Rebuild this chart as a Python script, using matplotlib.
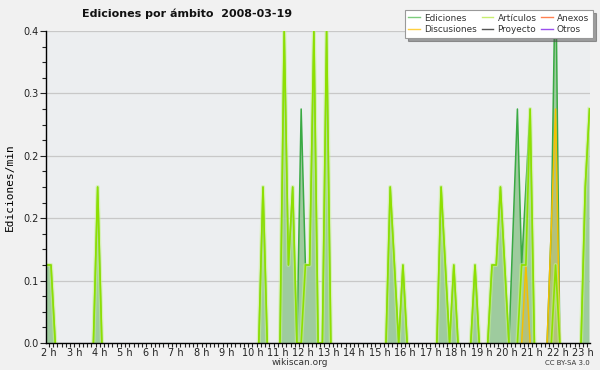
import matplotlib
matplotlib.use('Agg')
import matplotlib.pyplot as plt
import numpy as np
from matplotlib.ticker import FixedLocator, MultipleLocator, FormatStrFormatter
from matplotlib.lines import Line2D

# 10-minute bins, first bin at 1:55, values in ediciones/min
start_hour = 1 + 55 / 60
ediciones = [
    .1, .1, 0, 0, 0, 0, 0, 0, 0, 0, 0, 0,
    .2, 0, 0, 0, 0, 0, 0, 0, 0, 0, 0, 0,
    0, 0, 0, 0, 0, 0, 0, 0, 0, 0, 0, 0,
    0, 0, 0, 0, 0, 0, 0, 0, 0, 0, 0, 0,
    0, 0, 0, .2, 0, 0, 0, 0, .4, .1, .2, 0,
    .3, .1, .1, .4, 0, 0, .4, 0, 0, 0, 0, 0,
    0, 0, 0, 0, 0, 0, 0, 0, 0, .2, .1, 0,
    .1, 0, 0, 0, 0, 0, 0, 0, 0, .2, .1, 0,
    .1, 0, 0, 0, 0, .1, 0, 0, 0, .1, .1, .2,
    .1, 0, .15, .3, .1, .2, .3, 0, 0, 0, 0, .15,
    .5, 0, 0, 0, 0, 0, 0, .2, .3,
]
articulos = [
    .1, .1, 0, 0, 0, 0, 0, 0, 0, 0, 0, 0,
    .2, 0, 0, 0, 0, 0, 0, 0, 0, 0, 0, 0,
    0, 0, 0, 0, 0, 0, 0, 0, 0, 0, 0, 0,
    0, 0, 0, 0, 0, 0, 0, 0, 0, 0, 0, 0,
    0, 0, 0, .2, 0, 0, 0, 0, .4, .1, .2, 0,
    0, .1, .1, .4, 0, 0, .4, 0, 0, 0, 0, 0,
    0, 0, 0, 0, 0, 0, 0, 0, 0, .2, .1, 0,
    .1, 0, 0, 0, 0, 0, 0, 0, 0, .2, .1, 0,
    .1, 0, 0, 0, 0, .1, 0, 0, 0, .1, .1, .2,
    .1, 0, 0, 0, .1, .1, .3, 0, 0, 0, 0, 0,
    .1, 0, 0, 0, 0, 0, 0, .2, .3,
]
discusiones = [0] * 113 + [.1] + [0] * 5 + [.15, .3] + [0] * 8

hour_ticks = list(range(2, 24))
hour_labels = [str(h) + ' h' for h in hour_ticks]
y_ticks = [0, 0.08, 0.16, 0.24, 0.32, 0.4]

legend_names = ['Ediciones', 'Discusiones', 'Artículos', 'Proyecto', 'Anexos', 'Otros']
legend_colors = ['#7ccc7c', '#ffd040', '#c8ee70', '#555555', '#ff8050', '#9a50ee']

t = start_hour + np.arange(len(ediciones)) / 6
ed = np.array(ediciones, dtype=float)
art = np.array(articulos, dtype=float)
disc = np.array(discusiones, dtype=float)


def hide_flat(v):
    # no line along the baseline where nothing happens
    out = v.copy()
    n = len(v)
    for i in range(n):
        left = v[i - 1] if i > 0 else 0
        right = v[i + 1] if i < n - 1 else 0
        if v[i] == 0 and left == 0 and right == 0:
            out[i] = np.nan
    return out


fig = plt.figure(figsize=(6, 3.7), dpi=100, facecolor='#f1f1f1')
ax = fig.add_axes([46 / 600, 27 / 370, 544 / 600, 312 / 370])
ax.set_facecolor('#eceef0')

ax.fill_between(t, ed, color='#9ecb9e', lw=0, zorder=2)
ax.fill_between(t, disc, color='#d8b040', alpha=0.35, lw=0, zorder=2)
ax.plot(t, hide_flat(ed), color='#3aaa44', lw=1.1, zorder=3)
ax.plot(t, hide_flat(disc), color='#f5c000', lw=1.1, zorder=4)
ax.plot(t, hide_flat(art), color='#c6f28a', lw=3.0, alpha=0.55, zorder=4)
ax.plot(t, hide_flat(art), color='#8ee000', lw=1.2, zorder=5)

ax.set_xlim(t[0] - 0.03, t[-1] + 0.02)
ax.set_ylim(0, 0.4)
ax.xaxis.set_major_locator(FixedLocator(hour_ticks))
ax.set_xticklabels(hour_labels)
ax.xaxis.set_minor_locator(MultipleLocator(1 / 6))
ax.yaxis.set_major_locator(FixedLocator(y_ticks))
ax.yaxis.set_major_formatter(FormatStrFormatter('%.1f'))
ax.yaxis.set_minor_locator(MultipleLocator(0.02))
ax.tick_params(axis='x', which='major', labelsize=7, length=3, width=0.8, pad=0.5, colors='#222222')
ax.tick_params(axis='y', which='major', labelsize=7, length=4, width=0.8, pad=1, colors='#222222')
ax.tick_params(axis='both', which='minor', length=3, width=0.8, color='#222222')
ax.grid(axis='y', color='#c8c8c8', lw=0.9, zorder=1)
ax.set_axisbelow(True)
for s in ['top', 'right']:
    ax.spines[s].set_visible(False)
for s in ['left', 'bottom']:
    ax.spines[s].set_linewidth(1.0)
    ax.spines[s].set_zorder(6)

ax.set_ylabel('Ediciones/min', fontsize=8, family='DejaVu Sans Mono', labelpad=6)
fig.text(0.312, 0.962, 'Ediciones por ámbito  2008-03-19', fontsize=8, fontweight='bold',
         ha='center', va='center', color='#111111')

handles = [Line2D([], [], color=c, lw=1) for c in legend_colors]
leg = fig.legend(handles, legend_names, ncol=3, loc='upper right', bbox_to_anchor=(0.988, 0.973),
                 fontsize=6.4, frameon=True, fancybox=False, shadow=True, handlelength=1.3,
                 handletextpad=0.5, columnspacing=0.5, labelspacing=0.3, borderpad=0.4,
                 borderaxespad=0)
leg.get_frame().set_edgecolor('#999999')
leg.get_frame().set_linewidth(0.8)
leg.get_frame().set_facecolor('white')
for txt in leg.get_texts():
    txt.set_color('#333333')

fig.text(0.5, 0.02, 'wikiscan.org', fontsize=6.5, ha='center', va='center', color='#333333')
fig.text(0.983, 0.02, 'CC BY-SA 3.0', fontsize=5, ha='right', va='center', color='#333333')

fig.savefig('out.png', dpi=100, facecolor=fig.get_facecolor(), edgecolor='#a8a8a8')
